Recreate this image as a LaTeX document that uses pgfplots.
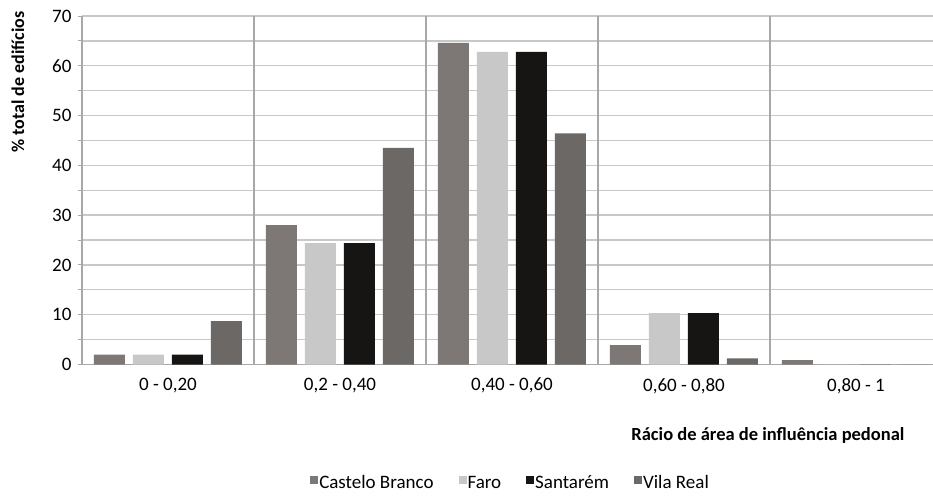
\documentclass[border=0pt]{standalone}
\usepackage{fontspec}
\setmainfont{Carlito}
\usepackage{pgfplots}
\pgfplotsset{compat=1.18}
\definecolor{cb}{HTML}{7D7876}
\definecolor{faro}{HTML}{C9C8C9}
\definecolor{sant}{HTML}{161513}
\definecolor{vr}{HTML}{6C6866}
\definecolor{gridc}{HTML}{C8C8C8}
\definecolor{sepc}{HTML}{A8A8A8}
\begin{document}
\begin{tikzpicture}
\path[use as bounding box] (0pt,0pt) rectangle (933pt,495pt);
\begin{axis}[
  at={(82pt,130.5pt)}, anchor=south west,
  scale only axis,
  width=851pt, height=348.5pt,
  xmin=-0.5, xmax=4.448,
  ymin=0, ymax=70,
  ybar=8pt, bar width=31pt,
  axis x line*=bottom, axis y line*=left,
  axis line style={sepc, line width=1.2pt},
  xtick={0,1,2,3,4},
  xticklabels={0 - 0{,}20, 0{,}2 - 0{,}40, 0{,}40 - 0{,}60, 0{,}60 - 0{,}80, 0{,}80 - 1},
  x tick style={draw=none},
  extra x ticks={0.5,1.5,2.5,3.5},
  extra x tick labels={},
  extra x tick style={grid=major, major grid style={sepc, line width=1.3pt}, tick style={draw=none}},
  ytick={0,10,...,70},
  minor ytick={5,15,...,65},
  ymajorgrids, yminorgrids,
  major grid style={gridc, line width=1.3pt},
  minor grid style={gridc, line width=1.3pt},
  y tick style={sepc, line width=1pt},
  tick align=outside,
  major tick length=4pt, minor tick length=4pt,
  /pgf/number format/assume math mode=true,
  ticklabel style={font=\fontsize{19}{22}\selectfont, text=black},
  yticklabel style={xshift=-3pt},
  xticklabel style={yshift=-6pt},
  legend style={draw=none, fill=none, inner sep=0pt, outer sep=0pt,
    at={(axis description cs:0.503,-0.34)}, anchor=center,
    font=\fontsize{19}{22}\selectfont, legend columns=4,
    nodes={inner sep=1pt},
    /tikz/every even column/.append style={column sep=24pt}},
  legend image code/.code={\fill[#1] (0pt,-1pt) rectangle (8pt,7pt);},
  every axis plot/.append style={draw=none},
  clip=false,
]
\addplot[fill=cb] coordinates {(0,2.0) (1,28.0) (2,64.6) (3,3.9) (4,0.9)};
\addplot[fill=faro] coordinates {(0,2.0) (1,24.4) (2,62.8) (3,10.3) (4,0)};
\addplot[fill=sant] coordinates {(0,2.0) (1,24.4) (2,62.8) (3,10.3) (4,0)};
\addplot[fill=vr] coordinates {(0,8.7) (1,43.5) (2,46.4) (3,1.25) (4,0)};
\legend{Castelo Branco, Faro, Santarém, Vila Real}
\node[anchor=east, font=\bfseries\fontsize{18.5}{22}\selectfont] at (axis description cs:0.9706,-0.204) {Rácio de área de influência pedonal};
\node[rotate=90, anchor=center, font=\bfseries\fontsize{18}{21}\selectfont] at (axis description cs:-0.0752,0.81) {\% total de edifícios};
\end{axis}
\end{tikzpicture}
\end{document}
